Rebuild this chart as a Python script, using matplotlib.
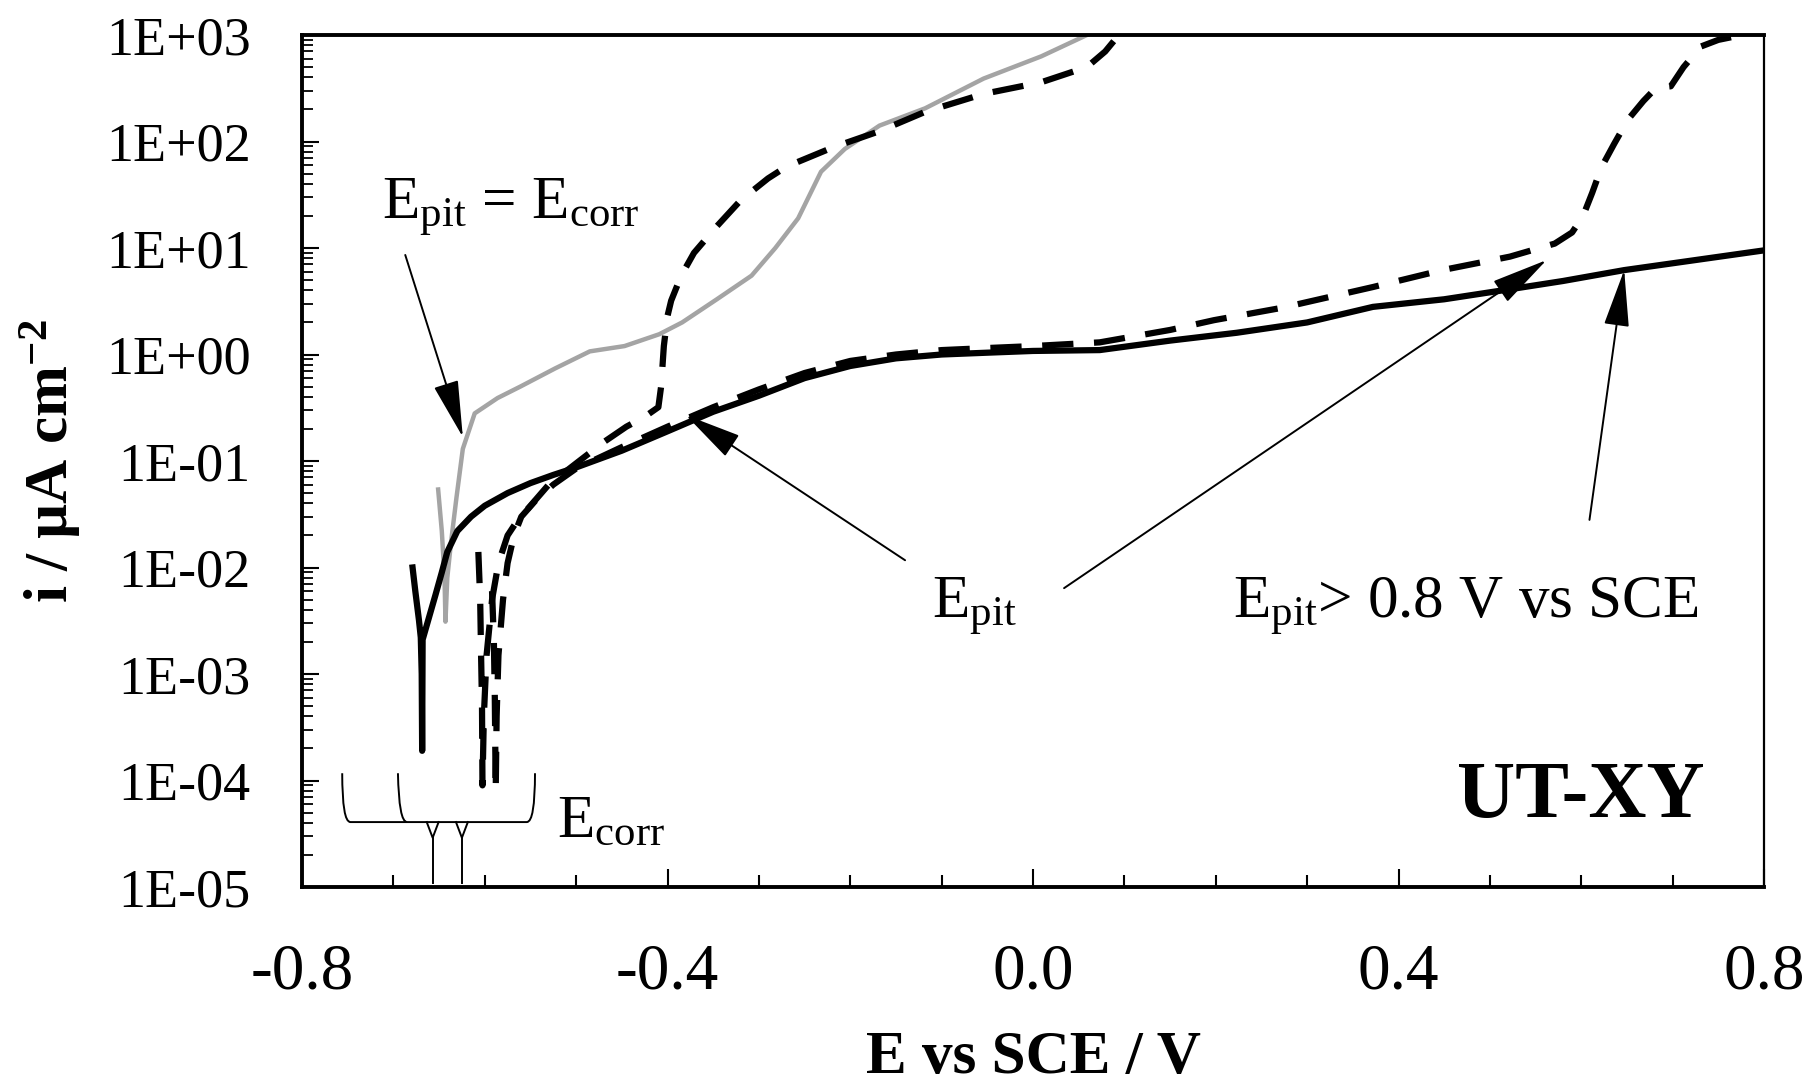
import numpy as np
import matplotlib
matplotlib.use('Agg')
import matplotlib.pyplot as plt
from matplotlib.path import Path
from matplotlib.patches import PathPatch
from matplotlib.ticker import FixedLocator, LogLocator, NullFormatter

plt.rcParams['font.family'] = ['Liberation Serif', 'DejaVu Serif']
plt.rcParams['mathtext.fontset'] = 'custom'
plt.rcParams['mathtext.rm'] = 'Liberation Serif'
plt.rcParams['mathtext.it'] = 'Liberation Serif:italic'
plt.rcParams['mathtext.bf'] = 'Liberation Serif:bold'
plt.rcParams['axes.unicode_minus'] = False

# ---- data (E in V vs SCE, i in uA/cm2) ----
E_solid = [-0.679, -0.676, -0.672, -0.670, -0.669, -0.6685, -0.668, -0.661, -0.654, -0.647,
           -0.641, -0.630, -0.615, -0.600, -0.575, -0.550, -0.525, -0.500, -0.450, -0.400,
           -0.350, -0.300, -0.250, -0.200, -0.150, -0.100, -0.050, 0.000, 0.073, 0.150,
           0.223, 0.300, 0.372, 0.450, 0.522, 0.580, 0.647, 0.720, 0.800]
i_solid = [1.0e-2, 6.0e-3, 3.2e-3, 2.2e-3, 1.0e-3, 1.9e-4, 2.1e-3, 3.4e-3, 5.5e-3, 9.0e-3,
           1.4e-2, 2.2e-2, 3.0e-2, 3.8e-2, 5.0e-2, 6.2e-2, 7.4e-2, 8.7e-2, 1.25e-1, 1.9e-1,
           2.9e-1, 4.1e-1, 6.0e-1, 7.8e-1, 9.2e-1, 1.0, 1.04, 1.08, 1.1, 1.35,
           1.6, 2.0, 2.8, 3.3, 4.1, 4.9, 6.2, 7.6, 9.5]

E_dashA = [-0.607, -0.605, -0.604, -0.603, -0.6025, -0.601, -0.598, -0.592, -0.585, -0.575,
           -0.565, -0.550, -0.530, -0.500, -0.470, -0.445, -0.425, -0.410, -0.407, -0.404,
           -0.400, -0.396, -0.385, -0.371, -0.346, -0.320, -0.290, -0.270, -0.219, -0.168,
           -0.118, -0.054, 0.009, 0.059, 0.079, 0.092, 0.100]
i_dashA = [1.4e-2, 5e-3, 1.5e-3, 5e-4, 9e-5, 4e-4, 1.5e-3, 5e-3, 1.1e-2, 2.0e-2,
           2.7e-2, 3.8e-2, 6.0e-2, 9.5e-2, 1.5e-1, 2.1e-1, 2.6e-1, 3.2e-1, 5.0e-1, 1.2,
           2.3, 3.2, 5.5, 9.0, 16, 28, 45, 58, 88, 125,
           190, 280, 360, 500, 700, 955, 1100]

E_dashB = [-0.592, -0.590, -0.589, -0.588, -0.587, -0.585, -0.580, -0.575, -0.568, -0.560,
           -0.545, -0.525, -0.500, -0.450, -0.400, -0.350, -0.300, -0.250, -0.200, -0.150,
           -0.100, -0.050, 0.000, 0.073, 0.150, 0.198, 0.273, 0.372, 0.448, 0.522,
           0.571, 0.590, 0.602, 0.612, 0.622, 0.636, 0.651, 0.668, 0.682, 0.698,
           0.712, 0.731, 0.750, 0.766, 0.785]
i_dashB = [6e-3, 2e-3, 6e-4, 8e-5, 4e-4, 1.5e-3, 5e-3, 1.1e-2, 2.0e-2, 3.0e-2,
           4.2e-2, 6.0e-2, 8.5e-2, 1.35e-1, 2.1e-1, 3.2e-1, 4.7e-1, 6.7e-1, 8.7e-1, 1.0,
           1.1, 1.15, 1.2, 1.3, 1.7, 2.1, 2.75, 4.3, 6.2, 8.3,
           11, 14, 20, 33, 57, 95, 160, 240, 320, 330,
           500, 780, 900, 960, 1000]

E_grey = [-0.651, -0.647, -0.644, -0.643, -0.641, -0.637, -0.631, -0.624, -0.611, -0.586,
          -0.561, -0.523, -0.485, -0.447, -0.409, -0.384, -0.346, -0.308, -0.282, -0.257,
          -0.232, -0.206, -0.168, -0.118, -0.054, 0.009, 0.059]
i_grey = [5.4e-2, 2.2e-2, 8e-3, 3.1e-3, 8e-3, 1.7e-2, 4.5e-2, 1.3e-1, 2.8e-1, 3.9e-1,
          5.0e-1, 7.4e-1, 1.07, 1.2, 1.55, 2.0, 3.3, 5.5, 10, 19,
          52, 85, 141, 205, 390, 630, 1000]

xtick_vals = [-0.8, -0.4, 0.0, 0.4, 0.8]
xtick_labels = ['-0.8', '-0.4', '0.0', '0.4', '0.8']
xminor_vals = [-0.7, -0.6, -0.5, -0.3, -0.2, -0.1, 0.1, 0.2, 0.3, 0.5, 0.6, 0.7]
ytick_vals = [1e-5, 1e-4, 1e-3, 1e-2, 1e-1, 1e0, 1e1, 1e2, 1e3]
ytick_labels = ['1E-05', '1E-04', '1E-03', '1E-02', '1E-01', '1E+00', '1E+01', '1E+02', '1E+03']

# annotation arrows: (tail E, tail i, tip E, tip i)
arrows = [(-0.687, 8.6, -0.624, 0.168),
          (-0.140, 1.17e-2, -0.380, 0.27),
          (0.034, 6.4e-3, 0.562, 7.7),
          (0.609, 2.8e-2, 0.647, 6.2)]

# Ecorr bracket, drawn under the cathodic branches
br_top, br_base = 1.17e-4, 4.07e-5
pointer_E = [-0.657, -0.625]
pointer_half = 0.0065
pointer_join, pointer_bottom = 2.9e-5, 1.1e-5

fig = plt.figure(figsize=(18.14, 10.86), dpi=100)
ax = fig.add_axes([302/1814, 1-887/1086, 1462/1814, 852/1086])

ax.plot(E_grey, i_grey, color='#a4a4a4', lw=3.2, zorder=2)
ax.plot(E_dashA, i_dashA, color='k', lw=4.5, dashes=(5.0, 3.3), dash_capstyle='butt', zorder=3)
ax.plot(E_dashB, i_dashB, color='k', lw=4.5, dashes=(5.0, 3.3), dash_capstyle='butt', zorder=3)
ax.plot(E_solid, i_solid, color='k', lw=4.5, solid_joinstyle='round', zorder=4)

ax.set_yscale('log')
ax.set_xlim(-0.8, 0.8)
ax.set_ylim(1e-5, 1e3)

ax.set_xticks(xtick_vals)
ax.set_xticklabels(xtick_labels)
ax.xaxis.set_minor_locator(FixedLocator(xminor_vals))
ax.set_yticks(ytick_vals)
ax.set_yticklabels(ytick_labels)
ax.yaxis.set_minor_locator(LogLocator(base=10, subs=np.arange(2, 10), numticks=20))
ax.yaxis.set_minor_formatter(NullFormatter())

ax.tick_params(axis='x', which='major', direction='in', length=13, width=1.5,
               labelsize=47, pad=40, top=False)
ax.tick_params(axis='x', which='minor', direction='in', length=8.5, width=1.5, top=False)
ax.tick_params(axis='y', which='major', direction='in', length=12, width=1.5,
               labelsize=39, pad=37, right=False)
ax.tick_params(axis='y', which='minor', direction='in', length=8, width=1.3, right=False)

for s in ['left', 'bottom', 'top']:
    ax.spines[s].set_linewidth(2.8)
ax.spines['right'].set_linewidth(1.6)

ax.set_xlabel('E vs SCE / V', fontsize=44, fontweight='bold')
ax.xaxis.set_label_coords(0.5, -0.168)
ax.set_ylabel(r'i / µA cm$^{\mathbf{-2}}$', fontsize=44, fontweight='bold')
ax.yaxis.set_label_coords(-0.150, 0.5)

for tx, ty, hx, hy in arrows:
    ax.annotate('', xy=(hx, hy), xytext=(tx, ty),
                arrowprops=dict(arrowstyle='-|>,head_length=0.9,head_width=0.2',
                                lw=1.4, color='k', mutation_scale=40,
                                shrinkA=0, shrinkB=0), zorder=5)

ax.text(-0.712, 19, r'E$_{\mathrm{pit}}$ = E$_{\mathrm{corr}}$', fontsize=44,
        ha='left', va='baseline')
ax.text(-0.110, 3.4e-3, r'E$_{\mathrm{pit}}$', fontsize=44, ha='left', va='baseline')
ax.text(0.219, 3.4e-3, r'E$_{\mathrm{pit}}$> 0.8 V vs SCE', fontsize=44,
        ha='left', va='baseline')
ax.text(-0.521, 2.95e-5, r'E$_{\mathrm{corr}}$', fontsize=44, ha='left', va='baseline')
ax.text(0.599, 4.5e-5, 'UT-XY', fontsize=58, fontweight='bold', ha='center', va='baseline')

# bracket outline with rounded ends
verts = [(-0.756, br_top), (-0.756, br_base), (-0.747, br_base), (-0.554, br_base),
         (-0.545, br_base), (-0.545, br_top)]
codes = [Path.MOVETO, Path.CURVE3, Path.CURVE3, Path.LINETO, Path.CURVE3, Path.CURVE3]
ax.add_patch(PathPatch(Path(verts, codes), fill=False, lw=1.4, color='k'))
verts2 = [(-0.695, br_top), (-0.694, br_base), (-0.685, br_base)]
codes2 = [Path.MOVETO, Path.CURVE3, Path.CURVE3]
ax.add_patch(PathPatch(Path(verts2, codes2), fill=False, lw=1.4, color='k'))
for pe in pointer_E:
    ax.plot([pe - pointer_half, pe, pe + pointer_half], [br_base, pointer_join, br_base],
            color='k', lw=1.4)
    ax.plot([pe, pe], [pointer_join, pointer_bottom], color='k', lw=1.4)

fig.savefig('out.png', dpi=100)
